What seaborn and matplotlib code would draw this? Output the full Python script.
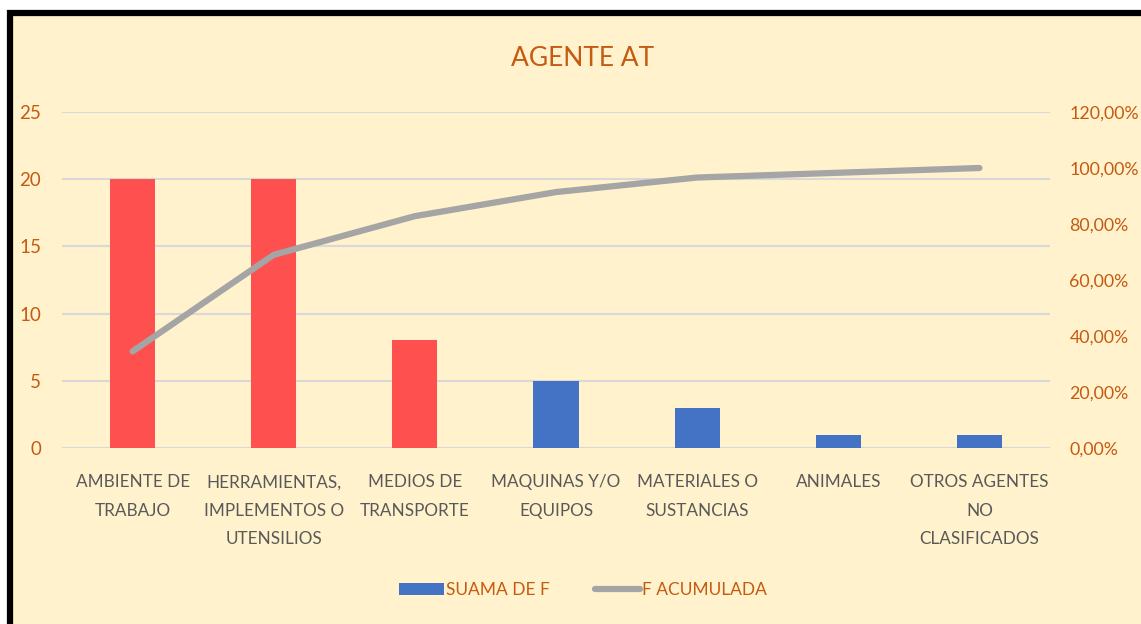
import numpy as np
import seaborn as sns
import matplotlib.pyplot as plt
from matplotlib.patches import Rectangle, Patch
from matplotlib.lines import Line2D

sns.set_theme(style="white")
plt.rcParams['font.family'] = ['Lato', 'DejaVu Sans']

# ----- data -----
categories = ["AMBIENTE DE\nTRABAJO", "HERRAMIENTAS,\nIMPLEMENTOS O\nUTENSILIOS",
              "MEDIOS DE\nTRANSPORTE", "MAQUINAS Y/O\nEQUIPOS", "MATERIALES O\nSUSTANCIAS",
              "ANIMALES", "OTROS AGENTES\nNO\nCLASIFICADOS"]
suama_f = [20, 20, 8, 5, 3, 1, 1]
f_acumulada = [0.345, 0.690, 0.828, 0.914, 0.966, 0.983, 1.0]
bar_colors = ["#FF5050", "#FF5050", "#FF5050", "#4472C4", "#4472C4", "#4472C4", "#4472C4"]

bg = "#FFF2CC"
orange = "#C55A11"
gray_txt = "#595959"
line_col = "#A5A5A5"

fig = plt.figure(figsize=(11.41, 6.24), dpi=100, facecolor="white")
# frame (black border on left/top, runs off the image at right/bottom)
fig.add_artist(Rectangle((10 / 1141, -0.2), 2, 1 - 13 / 624 + 0.2, transform=fig.transFigure,
                         facecolor=bg, edgecolor="black", linewidth=4.5, zorder=0))

ax = fig.add_axes([62 / 1141, 1 - 448 / 624, (1050 - 62) / 1141, (448 - 112) / 624])
ax.set_facecolor("none")

x = np.arange(len(categories))
sns.barplot(x=x, y=suama_f, hue=x, palette=bar_colors, legend=False,
            width=0.32, saturation=1, linewidth=0, ax=ax, zorder=2)
ax.set_ylim(0, 25)
ax.set_yticks([0, 5, 10, 15, 20, 25])
ax.grid(axis="y", color="#D9D9D9", linewidth=1.5, zorder=0)
ax.set_axisbelow(True)
for s in ax.spines.values():
    s.set_visible(False)
ax.tick_params(axis="y", colors=orange, labelsize=13.5, length=0, pad=15)
ax.set_xticks(x)
ax.set_xticklabels(categories, color=gray_txt, fontsize=12.3, linespacing=1.95)
ax.tick_params(axis="x", length=0, pad=19)
ax.set_xlim(-0.5, len(categories) - 0.5)
ax.set_xlabel("")
ax.set_ylabel("")

ax2 = ax.twinx()
sns.lineplot(x=x, y=f_acumulada, color=line_col, linewidth=4.5, ax=ax2,
             solid_capstyle="round", zorder=3)
ax2.set_ylim(0, 1.2)
ax2.set_yticks(np.arange(0, 1.21, 0.2))
ax2.set_yticklabels([f"{v*100:.2f}%".replace(".", ",") for v in np.arange(0, 1.21, 0.2)])
ax2.tick_params(axis="y", colors=orange, labelsize=12.8, length=0, pad=14)
for s in ax2.spines.values():
    s.set_visible(False)
ax2.set_ylabel("")

fig.text(0.511, 1 - 58 / 624, "AGENTE AT", color=orange, fontsize=19,
         ha="center", va="center")

handles = [Patch(facecolor="#4472C4", edgecolor="none", label="SUAMA DE F"),
           Line2D([0], [0], color=line_col, linewidth=4.5, solid_capstyle="round",
                  label="F ACUMULADA")]
leg = fig.legend(handles=handles, loc="center", bbox_to_anchor=(0.511, 1 - 590 / 624),
                 ncol=2, frameon=False, fontsize=12.5, handlelength=2.6, handletextpad=0.1,
                 columnspacing=2.6)
for t in leg.get_texts():
    t.set_color(orange)

fig.savefig("out.png", dpi=100, facecolor="white")
